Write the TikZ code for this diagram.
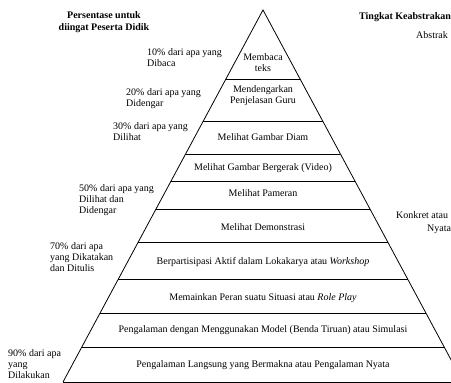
\documentclass[tikz,border=0pt]{standalone}
\usepackage{fontspec}
\setmainfont{Liberation Serif}
\usetikzlibrary{calc}
\begin{document}
\begin{tikzpicture}[x=1pt,y=-1pt,
  edge/.style={line width=0.8pt,black},
  band/.style={inner sep=0pt,anchor=base,align=center,font=\fontsize{10}{11}\selectfont},
  pct/.style={inner sep=0pt,anchor=base west,align=left,font=\fontsize{10}{11}\selectfont},
  side/.style={inner sep=0pt,anchor=base west,font=\fontsize{10}{11}\selectfont},
  head/.style={inner sep=0pt,anchor=base,align=center,font=\fontsize{10}{11.5}\selectfont\bfseries}]
\useasboundingbox (0,0) rectangle (451,383);
\coordinate (apex) at (263,10);
\coordinate (bl) at (63,382);
\coordinate (br) at (463,382);
\draw[edge] (bl) -- (apex) -- (br);
\foreach \t in {0.1855,0.2984,0.3871,0.4597,0.5349,0.6237,0.7231,0.8145,0.9059,1}
  \draw[edge] ($(apex)!\t!(bl)$) -- ($(apex)!\t!(br)$);
% band texts (base = baseline of last line)
\node[band] (b1) at (263,71.5) {Membaca\\teks};
\node[band] (b2) at (263,103.5) {Mendengarkan\\Penjelasan Guru};
\node[band] (b3) at (263,140.5) {Melihat Gambar Diam};
\node[band] (b4) at (263,170.5) {Melihat Gambar Bergerak (Video)};
\node[band] (b5) at (263,196.5) {Melihat Pameran};
\node[band] (b6) at (263,230.5) {Melihat Demonstrasi};
\node[band] (b7) at (263,264) {Berpartisipasi Aktif dalam Lokakarya atau \textit{Workshop}};
\node[band] (b8) at (263,300) {Memainkan Peran suatu Situasi atau \textit{Role Play}};
\node[band] (b9) at (263,332) {Pengalaman dengan Menggunakan Model (Benda Tiruan) atau Simulasi};
\node[band] (b10) at (263,367.5) {Pengalaman Langsung yang Bermakna atau Pengalaman Nyata};
% percentages
\node[pct] (p1) at (147,66.5) {10\% dari apa yang\\Dibaca};
\node[pct] (p2) at (126,106.5) {20\% dari apa yang\\Didengar};
\node[pct] (p3) at (113,140.5) {30\% dari apa yang\\Dilihat};
\node[pct] (p4) at (79,213.5) {50\% dari apa yang\\Dilihat dan\\Didengar};
\node[pct] (p5) at (50,271.5) {70\% dari apa\\yang Dikatakan\\dan Ditulis};
\node[pct] (p6) at (8,378.5) {90\% dari apa\\yang\\Dilakukan};
% headings
\node[head] (h1) at (104,30) {Persentase untuk\\diingat Peserta Didik};
\node[side,font=\fontsize{10}{11}\selectfont\bfseries] (h2) at (359,19) {Tingkat Keabstrakan};
\node[side] (s1) at (416,38.5) {Abstrak};
\node[side] (s2) at (396,218.5) {Konkret atau};
\node[side] (s3) at (427,231.5) {Nyata};
\end{tikzpicture}
\end{document}
